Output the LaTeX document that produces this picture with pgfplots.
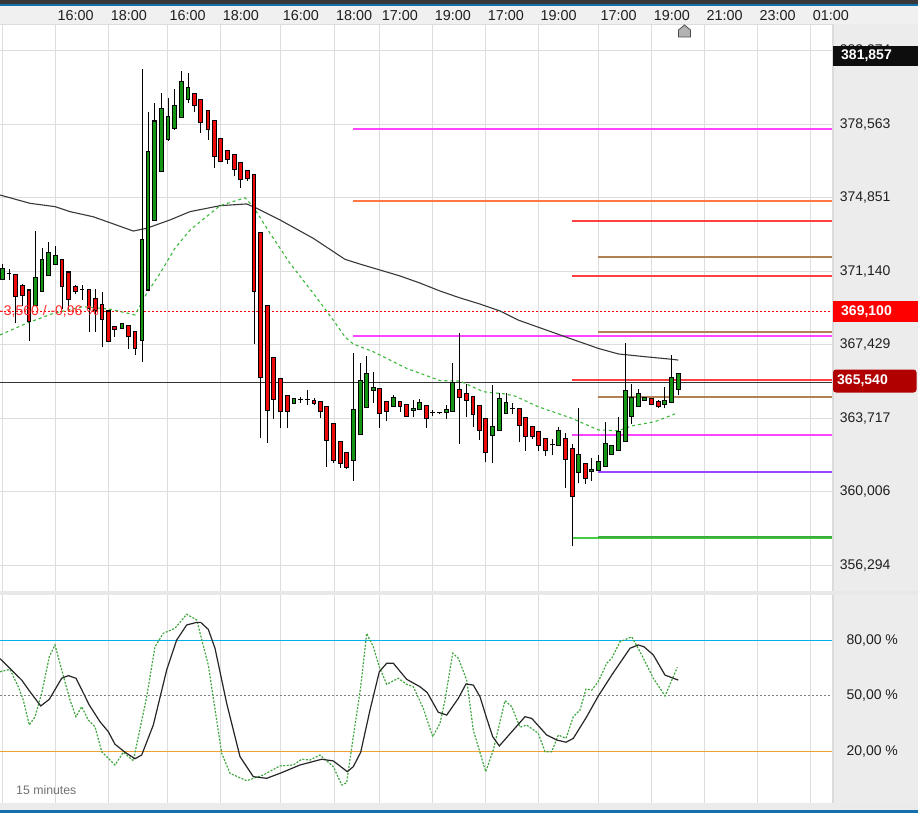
\documentclass[border=0pt]{standalone}
\usepackage{pgfplots}
\usepackage{pgfplotstable}
\pgfplotsset{compat=1.18}
\usepackage{fontspec}
\setmainfont{Liberation Sans}
\definecolor{cgreen}{RGB}{20,150,20}
\definecolor{cred}{RGB}{238,10,10}
\definecolor{gridc}{RGB}{221,221,221}
\definecolor{panel}{RGB}{236,236,236}
\definecolor{magl}{RGB}{255,68,255}
\definecolor{orgl}{RGB}{255,119,68}
\definecolor{redl}{RGB}{255,64,64}
\definecolor{brnl}{RGB}{178,128,84}
\definecolor{purl}{RGB}{153,68,255}
\definecolor{grnl}{RGB}{68,204,68}
\definecolor{topblue}{RGB}{20,112,170}
\definecolor{cyanl}{RGB}{0,178,232}
\definecolor{orgosc}{RGB}{240,162,48}
\definecolor{magreen}{RGB}{60,185,60}
\definecolor{stgreen}{RGB}{30,150,30}
\definecolor{darkredbox}{RGB}{176,0,0}
\definecolor{redtxt}{RGB}{255,40,40}
\newcommand{\lbl}{\fontsize{14}{16}\selectfont}
% candles: x, open, high, low, close
\pgfplotstableread{
x o h l c
2.7 370.73 371.50 370.70 371.29
9 371.03 371.24 370.70 371.03
15.7 370.98 371.00 368.51 369.85
22.7 370.43 370.49 369.38 369.92
29 370.19 370.19 367.63 368.59
35.7 369.40 373.17 369.40 370.83
42 370.12 372.30 370.12 371.74
48.7 370.91 372.62 370.91 372.10
55.7 371.49 372.41 371.49 371.94
62 371.74 371.74 369.22 370.36
68.7 371.10 371.10 369.18 369.72
75.7 370.38 370.44 369.97 370.12
82 370.23 370.43 369.69 370.23
89 370.23 370.23 368.08 369.27
95.3 369.77 370.23 368.08 369.18
102 369.47 370.07 367.30 368.71
108.7 369.13 369.13 367.58 367.61
114.7 368.37 368.37 367.83 368.17
122 368.24 368.52 368.24 368.51
128.7 368.41 368.41 367.19 367.83
135 368.10 368.10 366.91 367.24
142 367.63 381.34 366.57 372.72
148 370.19 379.20 370.19 377.21
154.7 373.71 379.62 373.71 378.73
161.7 376.20 380.13 376.20 379.37
168 377.81 379.89 377.72 378.98
174.7 378.36 380.33 378.28 379.49
181.7 378.92 381.26 378.92 380.74
188 379.83 381.14 379.65 380.43
194.7 380.13 380.13 379.17 379.50
200.7 379.83 379.83 378.14 378.66
208 379.27 379.27 377.77 378.31
214.7 378.77 378.77 376.37 376.93
220.7 377.86 377.86 376.69 376.69
227.7 377.26 377.26 376.57 376.80
234.7 377.05 377.05 375.97 376.29
240.7 376.64 376.64 375.36 375.78
247.7 376.24 376.24 375.71 375.81
254 376.04 376.04 367.48 370.12
260.7 373.11 373.11 362.73 365.78
267.7 369.42 369.42 362.47 364.11
273.7 366.79 366.79 363.69 364.67
280.7 365.73 365.73 363.23 364.06
287.7 364.87 364.87 363.23 364.06
294 364.47 364.73 364.47 364.72
300.7 364.67 364.77 364.47 364.67
307.7 364.67 365.14 364.36 364.67
314 364.62 364.72 364.36 364.45
320.7 364.57 364.57 363.74 364.06
326.7 364.31 364.31 361.26 362.60
333.7 363.46 363.46 361.43 361.59
340.7 362.55 362.55 361.18 361.43
346.7 361.99 361.99 361.15 361.23
353.7 361.59 366.99 360.55 364.16
360.7 362.90 366.49 362.90 365.63
366.7 364.26 366.86 364.26 365.98
373.7 365.12 366.03 364.47 365.27
379.7 365.22 365.22 363.23 363.96
386.7 364.57 364.57 363.59 364.06
393.7 364.31 364.89 364.31 364.77
400 364.57 364.57 364.01 364.31
406.7 364.42 364.42 363.81 363.82
413.7 364.11 364.62 363.76 364.21
419.7 364.16 364.67 364.16 364.53
426.7 364.36 364.36 363.20 363.71
432.7 364.01 364.13 363.82 364.01
439.7 363.98 364.03 363.93 363.98
446.7 364.01 364.36 363.69 364.13
452.7 364.06 366.49 364.06 365.53
459.7 365.17 368.00 362.39 364.77
466.7 364.97 365.43 363.79 364.62
473 364.82 364.82 363.25 363.91
479.7 364.36 364.36 362.60 363.10
485.7 363.71 363.71 361.48 361.99
492.7 362.85 365.39 361.43 363.30
499.7 363.10 364.97 363.10 364.72
506 363.93 365.00 363.93 364.52
512.7 364.19 364.47 363.91 364.19
519.7 364.21 364.21 362.53 363.35
525.7 363.76 363.76 362.07 362.80
532.7 363.30 363.30 362.65 362.80
538.7 363.05 363.05 362.04 362.34
545.7 362.70 362.70 361.79 362.09
552.7 362.37 362.68 361.87 362.37
558.7 362.34 363.25 362.34 363.10
565.7 362.70 362.95 360.17 361.64
572.7 362.19 362.39 357.24 359.77
578.7 360.98 364.21 360.42 361.89
585.7 361.43 361.43 360.40 360.68
591.7 361.01 361.72 360.55 361.13
598.7 361.08 361.85 361.08 361.54
605.7 361.28 363.54 361.28 362.44
611.7 361.89 362.36 361.89 362.31
618.7 362.09 363.76 362.09 363.05
625.7 362.55 367.50 362.55 365.09
631.7 363.81 365.43 363.42 364.77
638.7 364.31 365.19 364.31 364.97
644.7 364.62 364.77 364.62 364.77
651.7 364.72 364.72 364.42 364.42
658.7 364.57 364.63 364.21 364.29
664.7 364.42 365.27 364.21 364.62
671.7 364.52 366.92 364.52 365.78
678.7 365.17 365.99 364.87 365.98
}\candles
\begin{document}
\begin{tikzpicture}
\useasboundingbox (0,0) rectangle (918pt,-813pt);
\fill[white] (0,0) rectangle (918pt,-813pt);
% top strip
\fill[black!78] (0,0) rectangle (918pt,-4pt);
\fill[topblue] (0,-4pt) rectangle (918pt,-6.5pt);
\fill[black!6] (0,-6.5pt) rectangle (918pt,-24.5pt);
\draw[gridc, line width=1pt] (0,-24.5pt) -- (918pt,-24.5pt);
% right panels
\fill[panel] (832pt,-24.5pt) rectangle (918pt,-590.5pt);
\fill[panel] (832pt,-594.5pt) rectangle (918pt,-803pt);
% separators
\fill[black!9] (0,-590.5pt) rectangle (918pt,-594.5pt);
\fill[black!8] (0,-803pt) rectangle (918pt,-810pt);
\fill[topblue] (0,-810pt) rectangle (918pt,-813pt);
% time labels
\foreach \xx/\tt in {55.3/16:00,108.7/18:00,167.3/16:00,220.7/18:00,280.7/16:00,334/18:00,379.7/17:00,432.7/19:00,485.7/17:00,538.3/19:00,598.3/17:00,651.7/19:00,704.3/21:00,757.3/23:00,810.7/01:00}
  \node[anchor=west, inner sep=0pt, text=black!88, font=\fontsize{14.4}{16}\selectfont] at (\xx pt+2pt,-16pt) {\tt};

\begin{axis}[at={(0pt,-590.5pt)}, anchor=south west, scale only axis,
  width=832pt, height=566pt, xmin=0, xmax=832, ymin=355.006, ymax=383.606,
  axis line style={draw=none}, tick style={draw=none},
  xtick={2.7,55.3,108.7,167.3,220.7,280.7,334,379.7,432.7,485.7,538.3,598.3,651.7,704.3,757.3,810.7},
  xticklabels={},
  ytick={356.294,360.006,363.717,367.429,371.140,374.851,378.563,382.274},
  yticklabels={{356,294},{360,006},{363,717},{367,429},{371,140},{374,851},{378,563},{382,274}},
  yticklabel pos=right,
  yticklabel style={anchor=west, font=\lbl, text=black!88, xshift=4.3pt},
  grid=major, major grid style={gridc, line width=1pt}, clip=true,
  unbounded coords=discard]
% horizontal levels
\addplot[magl, line width=2pt] coordinates {(353,378.33) (832,378.33)};
\addplot[orgl, line width=2pt] coordinates {(353,374.69) (832,374.69)};
\addplot[redl, line width=2pt] coordinates {(572,373.68) (832,373.68)};
\addplot[brnl, line width=2pt] coordinates {(598,371.86) (832,371.86)};
\addplot[redl, line width=2pt] coordinates {(572,370.90) (832,370.90)};
\addplot[red, line width=1pt, dash pattern=on 2pt off 2pt] coordinates {(0,369.100) (832,369.100)};
\addplot[brnl, line width=2pt] coordinates {(598,368.07) (832,368.07)};
\addplot[magl, line width=2pt] coordinates {(353,367.88) (832,367.88)};
\addplot[redl, line width=2pt] coordinates {(572,365.64) (832,365.64)};
\addplot[black!80, line width=1pt] coordinates {(0,365.540) (832,365.540)};
\addplot[brnl, line width=2pt] coordinates {(598,364.78) (832,364.78)};
\addplot[magl, line width=2pt] coordinates {(572,362.86) (832,362.86)};
\addplot[purl, line width=2pt] coordinates {(598,361.01) (832,361.01)};
\addplot[grnl, line width=2pt] coordinates {(572,357.67) (832,357.67)};
\addplot[grnl!85!black, line width=1.5pt] coordinates {(598,357.72) (832,357.72)};
% moving averages
\addplot[black!78, line width=1.1pt] coordinates {(0,374.99) (30,374.57) (55.3,374.40) (70,374.15) (93.3,373.89) (110,373.59) (133.3,373.17) (146.7,373.31) (170,373.73) (190,374.15) (220,374.45) (246.7,374.54) (256.7,374.32) (280,373.73) (313.3,372.80) (345,371.74) (360,371.50) (380,371.20) (400,370.90) (420,370.54) (440,370.14) (460,369.79) (480,369.48) (500,369.13) (518.3,368.67) (538.3,368.31) (565,367.83) (598.3,367.24) (618.3,366.96) (645,366.82) (671.7,366.69) (678.3,366.65)};
\addplot[magreen, line width=1.1pt, dash pattern=on 3pt off 3pt] coordinates {(0,367.92) (26.7,368.51) (53.3,369.01) (83.3,369.35) (110,369.22) (135,368.93) (146.7,370.02) (160,371.03) (175,372.30) (190,373.22) (220,374.45) (245,374.85) (253.3,374.40) (270,373.06) (290,371.54) (313.3,370.02) (333.3,368.67) (345,367.82) (353.3,367.46) (373.3,367.07) (406.7,366.23) (440,365.61) (460,365.59) (483.3,365.05) (505,364.94) (515,364.83) (538.3,364.29) (571.7,363.71) (598.3,363.12) (618.3,363.08) (631.7,363.32) (655,363.54) (675,363.93)};
% wicks
\addplot[draw=none, mark=none, error bars/.cd, y dir=plus, y explicit, error mark=none,
  error bar style={draw=black, line width=1pt, solid}]
  table[x=x, y=l, y error expr={\thisrow{h}-\thisrow{l}}] {\candles};
% body outlines
\addplot[draw=none, mark=none, error bars/.cd, y dir=plus, y explicit, error mark=none,
  error bar style={draw=black, line width=4.6pt, solid, line cap=butt}]
  table[x=x, y expr={min(\thisrow{o},\thisrow{c})-0.026}, y error expr={abs(\thisrow{c}-\thisrow{o})+0.052}] {\candles};
% rising bodies
\addplot[draw=none, mark=none, x filter/.expression={\thisrow{c}>\thisrow{o} ? x : nan},
  error bars/.cd, y dir=plus, y explicit, error mark=none,
  error bar style={draw=cgreen, line width=2.6pt, solid, line cap=butt}]
  table[x=x, y expr={\thisrow{o}+0.026}, y error expr={\thisrow{c}-\thisrow{o}-0.052}] {\candles};
% falling bodies
\addplot[draw=none, mark=none, x filter/.expression={\thisrow{c}<\thisrow{o} ? x : nan},
  error bars/.cd, y dir=plus, y explicit, error mark=none,
  error bar style={draw=cred, line width=2.6pt, solid, line cap=butt}]
  table[x=x, y expr={\thisrow{c}+0.026}, y error expr={\thisrow{o}-\thisrow{c}-0.052}] {\candles};
\end{axis}

\begin{axis}[at={(0pt,-803pt)}, anchor=south west, scale only axis,
  width=832pt, height=208.5pt, xmin=0, xmax=832, ymin=-7.95, ymax=104.76,
  axis line style={draw=none}, tick style={draw=none},
  xtick={2.7,55.3,108.7,167.3,220.7,280.7,334,379.7,432.7,485.7,538.3,598.3,651.7,704.3,757.3,810.7},
  xticklabels={}, xmajorgrids, major grid style={gridc, line width=1pt},
  ytick={20,50,80}, yticklabels={{20,00 \%},{50,00 \%},{80,00 \%}},
  yticklabel pos=right,
  yticklabel style={anchor=west, font=\lbl, text=black!88, xshift=11pt},
  clip=true]
\addplot[cyanl, line width=1.5pt] coordinates {(0,80) (832,80)};
\addplot[black!50, line width=1pt, dash pattern=on 2pt off 2pt] coordinates {(0,50) (832,50)};
\addplot[orgosc, line width=1.5pt] coordinates {(0,20) (832,20)};
\addplot[stgreen!85!white, line width=1.2pt, dash pattern=on 2pt off 1.5pt] coordinates {(0,63.0) (10,64.3) (18.3,54.9) (23.3,47.7) (29.3,34.2) (35,38.7) (41.7,51.4) (49.3,71.1) (55,77.5) (61.7,64.0) (70,47.7) (76,38.7) (81.7,44.1) (88.3,36.9) (95,33.3) (101.7,19.8) (115,12.6) (123.3,19.5) (133.3,14.9) (146.7,49.5) (155,76.5) (163.3,83.8) (175,86.5) (186.7,94.1) (196.7,91.0) (208.3,66.6) (221.7,18.9) (230,8.1) (246.7,4.1) (263.3,7.2) (280,12.1) (293.3,12.6) (301.7,15.7) (310,15.3) (320,18.0) (333.3,11.7) (341.7,1.8) (346.7,3.0) (353.3,27.9) (360.7,54.9) (366.7,83.8) (373.3,76.5) (379.3,65.7) (386.7,56.2) (398.3,59.5) (406.7,56.2) (413.3,54.9) (423.3,43.2) (432.7,27.9) (440,35.1) (445,47.7) (452.7,73.0) (458.3,70.3) (466.7,58.5) (473.3,31.5) (485.7,9.0) (493.3,20.7) (505,47.4) (511.7,44.1) (520,33.0) (526.7,34.2) (538.3,29.7) (545,19.8) (551.7,19.8) (558.3,28.8) (566,27.0) (573.3,38.7) (580,42.3) (586,53.7) (591.7,53.1) (598.3,57.6) (606.7,67.6) (611.7,70.3) (620,79.2) (631.7,81.9) (641.7,72.1) (653.3,59.5) (665,49.9) (677.3,65.4)};
\addplot[black!85, line width=1.2pt] coordinates {(0,70.1) (13.3,63.0) (21.7,58.5) (30,52.2) (40.7,44.5) (49.3,48.1) (61.7,59.5) (68.3,60.9) (76,59.5) (89.3,45.0) (100,36.0) (108.3,30.6) (115,23.8) (125,19.5) (135,16.0) (141.7,18.0) (153.3,34.2) (166.7,64.0) (176.7,80.2) (186.7,88.3) (196.7,89.7) (200.7,89.7) (208.3,85.9) (215,75.7) (226.7,45.9) (240,17.1) (253.3,6.3) (266.7,5.4) (280,8.1) (300,12.6) (321.7,15.7) (333.3,14.8) (347.3,9.0) (353.3,11.7) (360.7,19.5) (370,42.3) (379.3,63.0) (386.7,67.6) (393.3,67.6) (406.7,58.9) (420,54.9) (427.3,51.7) (438.3,41.1) (446.7,39.6) (458.3,48.6) (466,56.4) (473.3,55.8) (480,49.5) (486.7,37.8) (492.7,27.9) (499.3,22.9) (513.3,31.5) (525,38.7) (531.7,37.8) (546.7,28.8) (556.7,26.1) (566,24.9) (573.3,27.0) (586.7,38.7) (598.3,49.9) (611.7,61.2) (630,75.7) (638.3,77.5) (644,76.5) (653.3,72.1) (665,61.2) (678.3,58.5)};
\end{axis}

% panel borders
\draw[black!14, line width=2pt] (833pt,-24.5pt) -- (833pt,-590.5pt);
\draw[black!14, line width=2pt] (833pt,-594.5pt) -- (833pt,-803pt);
% price boxes
\fill[black!95] (833pt,-46pt) rectangle (918pt,-66pt);
\node[anchor=west, inner sep=0pt, text=white, font=\lbl\bfseries] at (841pt,-56pt) {381,857};
\fill[red] (833pt,-301pt) rectangle (918pt,-321.5pt);
\node[anchor=west, inner sep=0pt, text=white, font=\lbl\bfseries] at (841pt,-311.3pt) {369,100};
\fill[darkredbox, rounded corners=3pt] (833pt,-369.5pt) rectangle (916.5pt,-392.5pt);
\node[anchor=west, inner sep=0pt, text=white, font=\lbl\bfseries] at (837pt,-381pt) {365,540};
% change label
\node[anchor=west, inner sep=0pt, text=redtxt, font=\lbl] at (-1pt,-311.5pt) {-3,560 / -0,96 \%};
% marker
\filldraw[fill=black!30, draw=black!70, line width=0.8pt] (678.5pt,-37pt) -- (690.5pt,-37pt) -- (690.5pt,-30pt) -- (684.5pt,-25pt) -- (678.5pt,-30pt) -- cycle;
\node[anchor=west, inner sep=0pt, text=black!55, font=\fontsize{12.3}{14}\selectfont] at (16pt,-790.5pt) {15 minutes};
\end{tikzpicture}
\end{document}
